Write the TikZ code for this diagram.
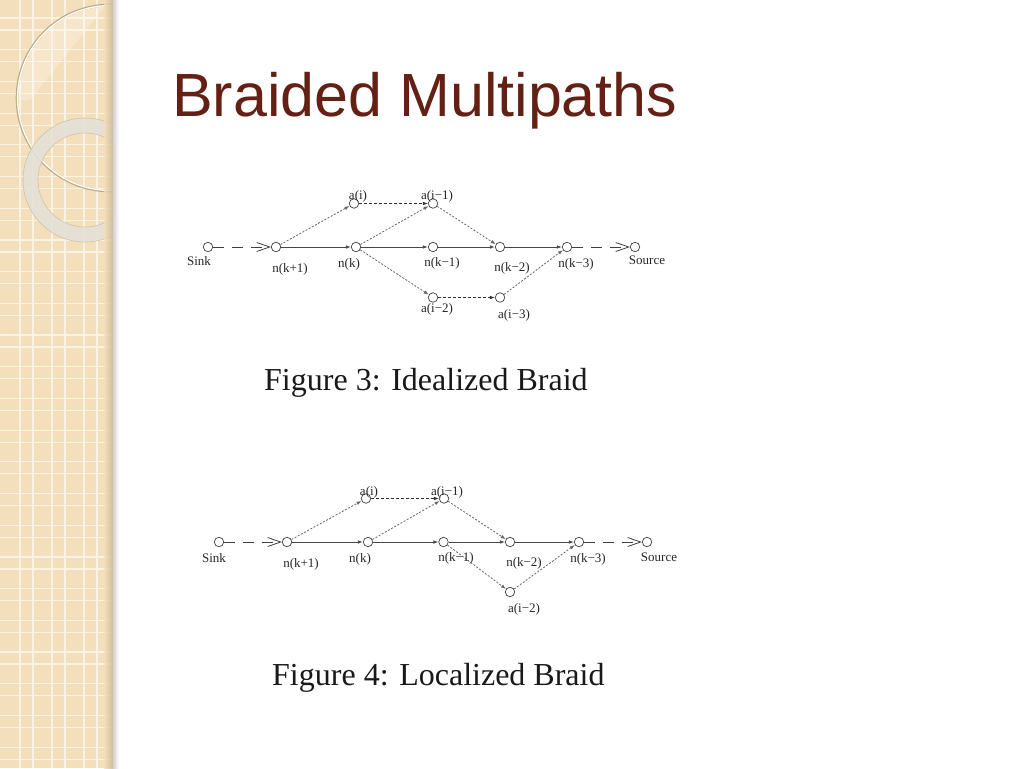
\documentclass[tikz,border=0pt]{standalone}
\usepackage{fontspec}
\setmainfont{Liberation Serif}
\newfontfamily\titlefont{Liberation Sans}
\usetikzlibrary{arrows.meta}
\definecolor{beige}{RGB}{243,223,187}
\definecolor{gridc}{RGB}{251,243,226}
\definecolor{titlered}{RGB}{100,32,20}
\definecolor{ringsh}{RGB}{190,168,130}
\definecolor{bandc}{RGB}{228,224,216}
\tikzset{
  vtx/.style={circle,draw=black!75,fill=white,minimum size=9.5pt,inner sep=0pt,line width=0.7pt},
  lab/.style={font=\fontsize{13}{13}\selectfont,inner sep=0pt,text=black!85},
  figcap/.style={font=\fontsize{32}{32}\selectfont,inner sep=0pt,text=black!90,anchor=base west},
  solidE/.style={draw=black!72,line width=0.8pt,-{Latex[length=5pt,width=3.6pt]}},
  dotE/.style={draw=black!60,line width=0.8pt,dash pattern=on 2pt off 1.6pt,-{Latex[length=5pt,width=3.6pt]}},
  dashE/.style={draw=black!82,line width=0.8pt,dash pattern=on 3pt off 2pt,-{Latex[length=5pt,width=3.6pt]}},
  longE/.style={draw=black!75,line width=0.8pt,dash pattern=on 11pt off 8pt,-{Straight Barb[length=13pt,width=9pt,line width=0.8pt]}},
  gridline/.style={draw=gridc,line width=1.2pt},
}
\begin{document}
\begin{tikzpicture}[x=1pt,y=-1pt]
\useasboundingbox (0,0) rectangle (1024,768);
\fill[white] (0,0) rectangle (1024,768);
% ---- decorative left strip ----
\begin{scope}
  \clip (0,0) rectangle (113,768);
  \fill[beige] (0,0) rectangle (113,768);
  \foreach \x in {20,52,84} {
    \draw[gridline] (\x,0) -- (\x,768);
    \draw[gridline] (\x+13,0) -- (\x+13,768);
  }
  \foreach \k in {0,...,24} {
    \draw[gridline] (0,18+31.7*\k) -- (113,18+31.7*\k);
    \draw[gridline] (0,30+31.7*\k) -- (113,30+31.7*\k);
  }
  % faint light zone in big circle
  \begin{scope}
    \clip (110,98) circle[radius=93];
    \fill[white,opacity=0.25] (0,0) -- (110,0) -- (30,100) -- (0,100) -- cycle;
  \end{scope}
  % big thin ring
  \draw[ringsh,line width=2.6pt] (110,98) circle[radius=93];
  \draw[white!90!beige,line width=1.4pt] (110,98) circle[radius=92.4];
  % thick light band ring
  \draw[bandc,opacity=0.85,line width=15pt] (85,180) circle[radius=54.5];
  \draw[ringsh!70,line width=0.6pt] (85,180) circle[radius=62];
  \draw[ringsh!70,line width=0.6pt] (85,180) circle[radius=47];
  % edge shade
  \shade[left color=beige,right color={rgb,255:red,200;green,180;blue,145},opacity=0.8] (104,0) rectangle (113,768);
\end{scope}
\shade[left color=black!18,right color=white] (113,0) rectangle (119,768);
% ---- title ----
\node[anchor=base west,inner sep=0pt,font=\titlefont\fontsize{61}{61}\selectfont,text=titlered] (title) at (172,116) {Braided Multipaths};
% ---- Figure 3 ----
\node[vtx] (s3) at (208,247) {};
\node[vtx] (a1) at (276,247) {};
\node[vtx] (a2) at (356,247) {};
\node[vtx] (a3) at (433,247) {};
\node[vtx] (a4) at (500,247) {};
\node[vtx] (a5) at (567,247) {};
\node[vtx] (src3) at (635,247) {};
\node[vtx] (b1) at (354,203.5) {};
\node[vtx] (b2) at (433,203.5) {};
\node[vtx] (b3) at (433,297.5) {};
\node[vtx] (b4) at (500,297.5) {};
\draw[longE] (s3) -- (a1);
\draw[solidE] (a1) -- (a2);
\draw[solidE] (a2) -- (a3);
\draw[solidE] (a3) -- (a4);
\draw[solidE] (a4) -- (a5);
\draw[longE] (a5) -- (src3);
\draw[dotE] (a1) -- (b1);
\draw[dashE] (b1) -- (b2);
\draw[dotE] (a2) -- (b2);
\draw[dotE] (b2) -- (a4);
\draw[dotE] (a2) -- (b3);
\draw[dashE] (b3) -- (b4);
\draw[dotE] (b4) -- (a5);
\node[lab] (ls3) at (199,261) {Sink};
\node[lab] (la1) at (290,269) {n(k+1)};
\node[lab] (la2) at (349,264) {n(k)};
\node[lab] (la3) at (442,263) {n(k−1)};
\node[lab] (la4) at (512,268) {n(k−2)};
\node[lab] (la5) at (576,264) {n(k−3)};
\node[lab] (lsrc3) at (647,260) {Source};
\node[lab] (lb1) at (358,196) {a(i)};
\node[lab] (lb2) at (437,196) {a(i−1)};
\node[lab] (lb3) at (437,309) {a(i−2)};
\node[lab] (lb4) at (514,315) {a(i−3)};
\node[figcap] (cap3) at (264,390) {Figure 3: Idealized Braid};
% ---- Figure 4 ----
\node[vtx] (s4) at (219,542) {};
\node[vtx] (c1) at (287,542) {};
\node[vtx] (c2) at (368,542) {};
\node[vtx] (c3) at (443.5,542) {};
\node[vtx] (c4) at (510,542) {};
\node[vtx] (c5) at (579,542) {};
\node[vtx] (src4) at (647,542) {};
\node[vtx] (d1) at (366,498.5) {};
\node[vtx] (d2) at (444,498.5) {};
\node[vtx] (d3) at (510,592) {};
\draw[longE] (s4) -- (c1);
\draw[solidE] (c1) -- (c2);
\draw[solidE] (c2) -- (c3);
\draw[solidE] (c3) -- (c4);
\draw[solidE] (c4) -- (c5);
\draw[longE] (c5) -- (src4);
\draw[dotE] (c1) -- (d1);
\draw[dashE] (d1) -- (d2);
\draw[dotE] (c2) -- (d2);
\draw[dotE] (d2) -- (c4);
\draw[dotE] (c3) -- (d3);
\draw[dotE] (d3) -- (c5);
\node[lab] (ls4) at (214,558) {Sink};
\node[lab] (lc1) at (301,564) {n(k+1)};
\node[lab] (lc2) at (360,559) {n(k)};
\node[lab] (lc3) at (456,558) {n(k−1)};
\node[lab] (lc4) at (524,563) {n(k−2)};
\node[lab] (lc5) at (588,559) {n(k−3)};
\node[lab] (lsrc4) at (659,557) {Source};
\node[lab] (ld1) at (369,492) {a(i)};
\node[lab] (ld2) at (447,492) {a(i−1)};
\node[lab] (ld3) at (524,609) {a(i−2)};
\node[figcap] (cap4) at (272,685) {Figure 4: Localized Braid};
\end{tikzpicture}
\end{document}
